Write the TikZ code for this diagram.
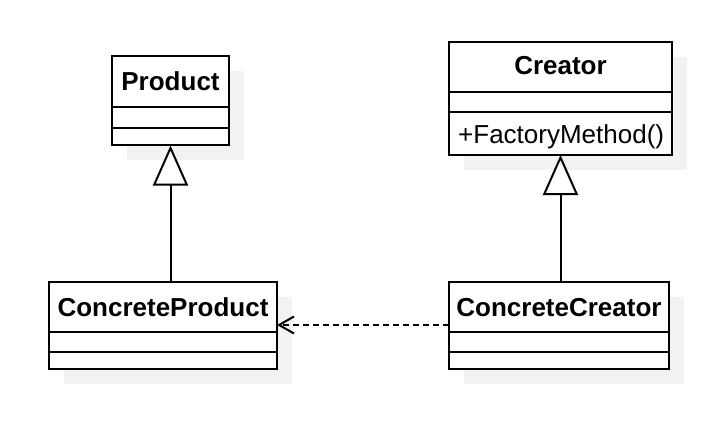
\documentclass[tikz,border=0pt]{standalone}
\usepackage{fontspec}
\setmainfont{Liberation Sans}
\usetikzlibrary{arrows.meta}
\definecolor{shadowgray}{RGB}{242,242,242}
\tikzset{
  cls/.style={draw=black, line width=2pt, fill=white, anchor=north west, inner sep=0pt, outer sep=0pt},
  clsshadow/.style={fill=shadowgray, draw=none},
  divider/.style={line width=2pt},
  clsname/.style={font=\fontsize{26}{31}\selectfont\bfseries, anchor=base, inner sep=0pt},
  member/.style={font=\fontsize{26}{31}\selectfont, anchor=base west, inner sep=0pt},
  inherit/.style={line width=2pt, -{Triangle[length=40pt, width=35pt, fill=white, line join=miter]}},
  depend/.style={line width=2pt, dash pattern=on 6pt off 4pt, -{Straight Barb[length=15pt, width=17pt]}}
}
\begin{document}
\begin{tikzpicture}[x=1pt, y=-1pt]
  \useasboundingbox (0,0) rectangle (724,428);
  \fill[white] (0,0) rectangle (724,428);

  % drop shadows behind the four classes
  \fill[clsshadow] (127,71) rectangle ++(117,89.5);
  \fill[clsshadow] (464,57) rectangle ++(223,113);
  \fill[clsshadow] (64,297) rectangle ++(228,87);
  \fill[clsshadow] (464,297) rectangle ++(220,87);

  % Product
  \node[cls, minimum width=117pt, minimum height=89.5pt] (product) at (112,56) {};
  \draw[divider] (product.west |- 0,107) -- (product.east |- 0,107);
  \draw[divider] (product.west |- 0,128) -- (product.east |- 0,128);
  \node[clsname] (productname) at (product.north |- 0,91) {Product};

  % Creator
  \node[cls, minimum width=223pt, minimum height=113pt] (creator) at (449,42) {};
  \draw[divider] (creator.west |- 0,92) -- (creator.east |- 0,92);
  \draw[divider] (creator.west |- 0,112) -- (creator.east |- 0,112);
  \node[clsname] (creatorname) at (creator.north |- 0,75) {Creator};
  \node[member] (factorymethod) at (458,143.5) {+FactoryMethod()};

  % ConcreteProduct
  \node[cls, minimum width=228pt, minimum height=87pt] (cproduct) at (49,282) {};
  \draw[divider] (cproduct.west |- 0,332) -- (cproduct.east |- 0,332);
  \draw[divider] (cproduct.west |- 0,352) -- (cproduct.east |- 0,352);
  \node[clsname] (cproductname) at (cproduct.north |- 0,316.5) {ConcreteProduct};

  % ConcreteCreator
  \node[cls, minimum width=220pt, minimum height=87pt] (ccreator) at (449,282) {};
  \draw[divider] (ccreator.west |- 0,332) -- (ccreator.east |- 0,332);
  \draw[divider] (ccreator.west |- 0,352) -- (ccreator.east |- 0,352);
  \node[clsname] (ccreatorname) at (ccreator.north |- 0,316.5) {ConcreteCreator};

  % generalisations
  \coordinate (cproducttop) at (product.south |- cproduct.north);
  \coordinate (ccreatortop) at (creator.south |- ccreator.north);
  \draw[inherit] (cproducttop) -- (product.south);
  \draw[inherit] (ccreatortop) -- (creator.south);

  % dependency
  \draw[depend] ([yshift=-43pt]ccreator.north west) -- ([yshift=-43pt]cproduct.north east);
\end{tikzpicture}
\end{document}
